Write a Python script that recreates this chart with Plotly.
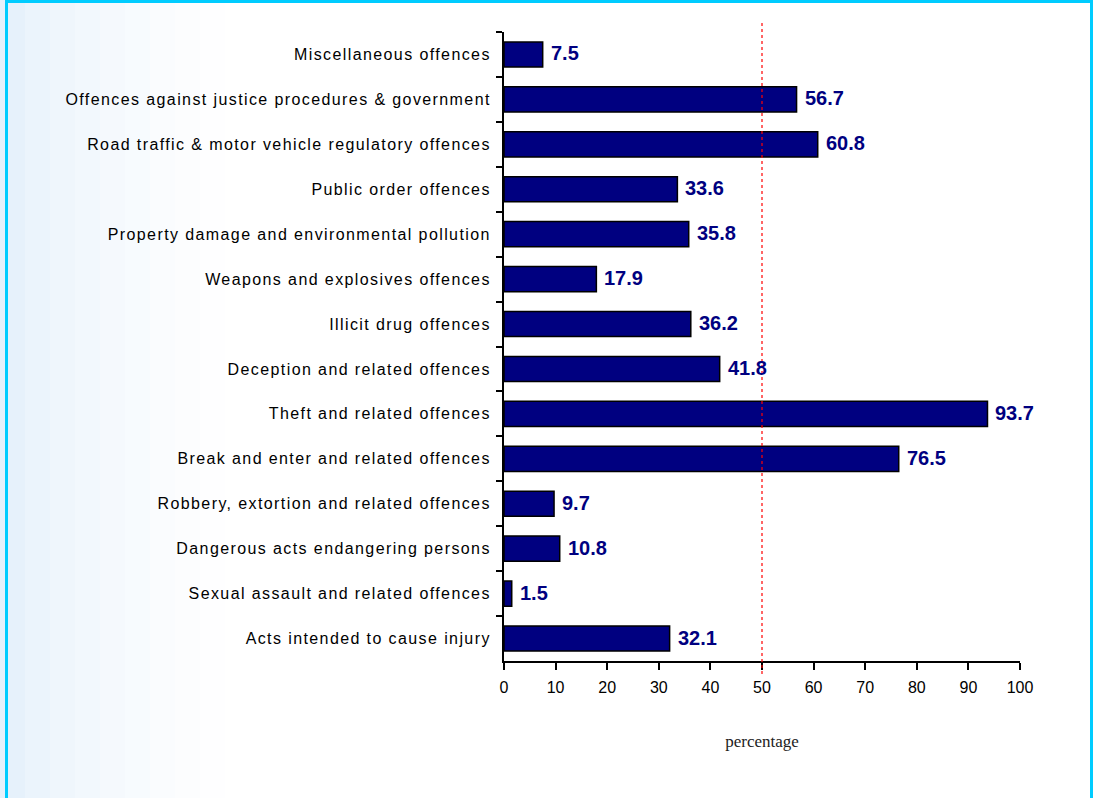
import plotly.graph_objects as go

# Offence categories, listed from top to bottom of the chart
categories = [
    "Miscellaneous offences",
    "Offences against justice procedures & government",
    "Road traffic & motor vehicle regulatory offences",
    "Public order offences",
    "Property damage and environmental pollution",
    "Weapons and explosives offences",
    "Illicit drug offences",
    "Deception and related offences",
    "Theft and related offences",
    "Break and enter and related offences",
    "Robbery, extortion and related offences",
    "Dangerous acts endangering persons",
    "Sexual assault and related offences",
    "Acts intended to cause injury",
]
percentages = [7.5, 56.7, 60.8, 33.6, 35.8, 17.9, 36.2, 41.8, 93.7, 76.5, 9.7, 10.8, 1.5, 32.1]
x_ticks = [0, 10, 20, 30, 40, 50, 60, 70, 80, 90, 100]
reference_level = 50

W, H = 1093, 798
L, R, T, B = 504, 73, 32, 137
pw, ph = W - L - R, H - T - B
SANS = "Liberation Sans, Arial, sans-serif"


def px_x(p):
    return (p - L) / pw


def px_y(p):
    return (H - B - p) / ph


fig = go.Figure()
fig.add_trace(go.Bar(
    y=categories,
    x=percentages,
    orientation="h",
    marker=dict(color="#000080", line=dict(color="#000000", width=1.5)),
    hoverinfo="skip",
))

# value labels just past the end of each bar
for cat, val in zip(categories, percentages):
    fig.add_annotation(
        x=val, y=cat, xref="x", yref="y",
        text=f"<b>{val:.1f}</b>", showarrow=False,
        xanchor="left", yanchor="middle", xshift=6, yshift=1,
        font=dict(family=SANS, size=20, color="#000080"),
    )

shapes = []
# soft light-blue wash along the left side of the frame
wash = [(0, 25, 0.60), (25, 50, 0.48), (50, 75, 0.40), (75, 100, 0.32),
        (100, 125, 0.25), (125, 150, 0.19), (150, 175, 0.13), (175, 200, 0.08),
        (200, 225, 0.03)]
for x0, x1, op in wash:
    shapes.append(dict(type="rect", xref="paper", yref="paper",
                       x0=px_x(x0), x1=px_x(x1), y0=px_y(H), y1=px_y(0),
                       fillcolor="#D6E8F8", opacity=op, line=dict(width=0), layer="below"))
# frame border
for x0, x1, y0, y1 in [(5, 8, 0, H), (1090, 1093, 0, H), (5, 1093, 0, 3)]:
    shapes.append(dict(type="rect", xref="paper", yref="paper",
                       x0=px_x(x0), x1=px_x(x1), y0=px_y(y1), y1=px_y(y0),
                       fillcolor="#00CCFF", line=dict(width=0), layer="above"))
# reference line at 50%
shapes.append(dict(type="line", xref="x", yref="paper",
                   x0=reference_level, x1=reference_level, y0=px_y(674), y1=px_y(22),
                   line=dict(color="#FF0000", width=1.2, dash="dot"), layer="above"))

fig.update_layout(
    width=W, height=H,
    margin=dict(l=L, r=R, t=T, b=B),
    paper_bgcolor="#FFFFFF",
    plot_bgcolor="rgba(0,0,0,0)",
    showlegend=False,
    bargap=0.44,
    shapes=shapes,
    font=dict(family=SANS, size=15, color="#000000"),
)
fig.update_xaxes(
    range=[0, 100],
    tickvals=x_ticks,
    ticks="outside", ticklen=7, tickwidth=1.5, tickcolor="#000000",
    showline=True, linecolor="#000000", linewidth=2,
    showgrid=False, zeroline=False,
    ticklabelstandoff=4,
    tickfont=dict(size=16),
    title=dict(text="percentage", standoff=40,
               font=dict(family="Liberation Serif, Times New Roman, serif", size=17, color="#222222")),
)
fig.update_yaxes(
    autorange="reversed",
    tickson="boundaries",
    ticks="outside", ticklen=6, tickwidth=1.5, tickcolor="#000000",
    showline=True, linecolor="#000000", linewidth=2,
    showgrid=False,
    ticklabelstandoff=8,
    tickfont=dict(size=16),
)

# looser tracking on the category labels
spacing_css = (
    "var s=document.createElement('style');"
    "s.textContent='.ytick text{letter-spacing:1.4px}';"
    "document.head.appendChild(s);"
)
fig.write_html("out.html", post_script=spacing_css)
